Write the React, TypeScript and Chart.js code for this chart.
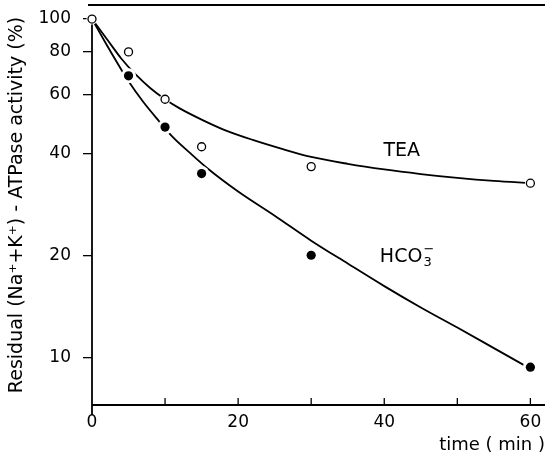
import React, { useEffect, useRef } from "react";
import { Chart, registerables } from "chart.js";

Chart.register(...registerables);

// measured points
const teaTimes = [0, 5, 10, 15, 30, 60];
const teaValues = [100, 80, 58, 42, 36.7, 32.8];
const hco3Times = [5, 10, 15, 30, 60];
const hco3Values = [68, 48, 35, 20.1, 9.4];

// fitted curves
const teaCurveTimes = [0, 2, 4, 6, 8, 10, 12, 15, 18, 22, 26, 30, 35, 40, 45, 50, 55, 60];
const teaCurveValues = [100, 87.5, 76.5, 68.5, 62.5, 58, 54.5, 50.5, 47.2, 44, 41.4, 39.2, 37.4, 36, 34.9, 34, 33.3, 32.8];
const hco3CurveTimes = [0, 2, 4, 5, 7, 9, 11, 13.4, 16, 20, 25, 30, 35, 40, 45, 50, 55, 60];
const hco3CurveValues = [100, 84, 71, 65.5, 57, 50.5, 45, 40.3, 36, 31, 26.3, 22.2, 19, 16.3, 14.1, 12.3, 10.7, 9.3];

// axes
const yTickValues = [10, 20, 40, 60, 80, 100];
const xLabelValues = [0, 20, 40, 60];
const xTickMarks = [10, 20, 30, 40, 50, 60];
const xMin = 0;
const xMax = 62;
const yMin = 7.27;
const yMax = 110;

// annotations
const teaLabel = "TEA";
const teaLabelPos = [42.4, 40.9];
const hco3LabelPos = [39.4, 19.9];

const FONT = '"DejaVu Sans", sans-serif';

const toXY = (xs: number[], ys: number[]) => xs.map((x, i) => ({ x, y: ys[i] }));

const zeroPad = (s: any) => {
  s.paddingTop = 0;
  s.paddingBottom = 0;
  s.paddingLeft = 0;
  s.paddingRight = 0;
};

const framePlugin = {
  id: "frame",
  beforeDatasetsDraw(chart: any) {
    const { ctx, chartArea, scales } = chart;
    const { left, right, top, bottom } = chartArea;
    const x = scales.x;
    const y = scales.y;
    ctx.save();
    ctx.strokeStyle = "#000";
    ctx.lineWidth = 1.8;
    ctx.lineCap = "butt";
    // top rule
    ctx.beginPath();
    ctx.moveTo(left - 4, top);
    ctx.lineTo(right, top);
    ctx.stroke();
    // y axis
    const y100 = y.getPixelForValue(100);
    ctx.beginPath();
    ctx.moveTo(left, y100 - 2);
    ctx.lineTo(left, bottom + 10);
    ctx.stroke();
    // x axis
    ctx.beginPath();
    ctx.moveTo(left, bottom);
    ctx.lineTo(right, bottom);
    ctx.stroke();
    // x tick marks (inward)
    ctx.lineWidth = 1.3;
    for (const v of xTickMarks) {
      const px = x.getPixelForValue(v);
      ctx.beginPath();
      ctx.moveTo(px, bottom);
      ctx.lineTo(px, bottom - 7);
      ctx.stroke();
    }
    // labels
    ctx.fillStyle = "#000";
    ctx.font = `19px ${FONT}`;
    ctx.textBaseline = "middle";
    ctx.textAlign = "center";
    ctx.fillText(teaLabel, x.getPixelForValue(teaLabelPos[0]), y.getPixelForValue(teaLabelPos[1]));
    const hx = x.getPixelForValue(hco3LabelPos[0]);
    const hy = y.getPixelForValue(hco3LabelPos[1]);
    ctx.textAlign = "left";
    ctx.fillText("HCO", hx, hy);
    const w = ctx.measureText("HCO").width;
    ctx.font = `13px ${FONT}`;
    ctx.fillText("3", hx + w + 1, hy + 6);
    ctx.fillText("\u2212", hx + w + 1, hy - 7);
    ctx.restore();
  },
};

export default function App() {
  const ref = useRef<HTMLCanvasElement | null>(null);
  useEffect(() => {
    if (!ref.current) return;
    const tickFont = { family: FONT, size: 17 };
    const chart = new Chart(ref.current, {
      type: "line",
      data: {
        datasets: [
          {
            label: "TEA points",
            data: toXY(teaTimes, teaValues),
            showLine: false,
            pointRadius: 4,
            pointBackgroundColor: "#fff",
            pointBorderColor: "#000",
            pointBorderWidth: 1.3,
            order: 0,
            clip: false,
          } as any,
          {
            label: "HCO3 points",
            data: toXY(hco3Times, hco3Values),
            showLine: false,
            pointRadius: 4.6,
            pointBackgroundColor: "#000",
            pointBorderColor: "#000",
            pointBorderWidth: 0,
            order: 1,
            clip: false,
          } as any,
          {
            label: "halo TEA",
            data: toXY(teaTimes, teaValues),
            showLine: false,
            pointRadius: 5.5,
            pointBackgroundColor: "#fff",
            pointBorderWidth: 0,
            order: 2,
            clip: false,
          } as any,
          {
            label: "halo HCO3",
            data: toXY(hco3Times, hco3Values),
            showLine: false,
            pointRadius: 7.5,
            pointBackgroundColor: "#fff",
            pointBorderWidth: 0,
            order: 2,
            clip: false,
          } as any,
          {
            label: "TEA curve",
            data: toXY(teaCurveTimes, teaCurveValues),
            borderColor: "#000",
            borderWidth: 1.8,
            pointRadius: 0,
            cubicInterpolationMode: "monotone",
            fill: false,
            order: 3,
            clip: false,
          } as any,
          {
            label: "HCO3 curve",
            data: toXY(hco3CurveTimes, hco3CurveValues),
            borderColor: "#000",
            borderWidth: 1.8,
            pointRadius: 0,
            cubicInterpolationMode: "monotone",
            fill: false,
            order: 3,
            clip: false,
          } as any,
        ],
      },
      options: {
        animation: false,
        responsive: false,
        devicePixelRatio: 1,
        layout: { autoPadding: false, padding: { top: 5, right: 0, left: 0, bottom: 0 } },
        plugins: { legend: { display: false }, tooltip: { enabled: false } },
        scales: {
          x: {
            type: "linear",
            min: xMin,
            max: xMax,
            afterBuildTicks: (s: any) => {
              s.ticks = xLabelValues.map((v) => ({ value: v }));
            },
            afterFit: (s: any) => {
              s.height = 54;
              zeroPad(s);
            },
            grid: { display: false, drawTicks: false },
            border: { display: false },
            ticks: { color: "#000", font: tickFont, padding: 7, maxRotation: 0, autoSkip: false },
            title: {
              display: true,
              text: "time ( min )",
              align: "end",
              color: "#000",
              font: { family: FONT, size: 18 },
              padding: { top: 0, bottom: 3 },
            },
          },
          y: {
            type: "logarithmic",
            min: yMin,
            max: yMax,
            afterBuildTicks: (s: any) => {
              s.ticks = yTickValues.map((v) => ({ value: v }));
            },
            afterFit: (s: any) => {
              s.width = 92;
              zeroPad(s);
            },
            grid: {
              display: true,
              drawOnChartArea: false,
              drawTicks: true,
              tickLength: 9,
              color: "#000",
              lineWidth: 1.3,
            },
            border: { display: false },
            ticks: {
              color: "#000",
              font: tickFont,
              padding: 12,
              autoSkip: false,
              callback: (v: any) => String(v),
            },
            title: {
              display: true,
              text: "Residual (Na\u207A+K\u207A) - ATPase activity (%)",
              color: "#000",
              font: { family: FONT, size: 19 },
              padding: { top: 6, bottom: 0 },
            },
          },
        },
      } as any,
      plugins: [framePlugin],
    });
    return () => chart.destroy();
  }, []);
  return (
    <div style={{ position: "fixed", left: 0, top: 0, width: 545, height: 459, background: "#fff" }}>
      <canvas ref={ref} width={545} height={459} style={{ display: "block", width: 545, height: 459 }} />
    </div>
  );
}
